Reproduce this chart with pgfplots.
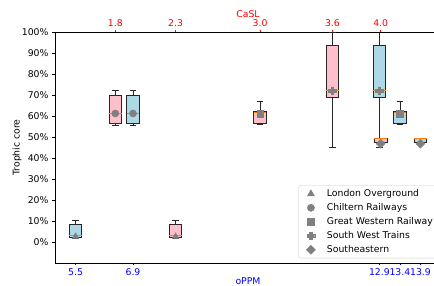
\documentclass[border=0pt]{standalone}
\usepackage{fontspec}
\setmainfont{DejaVu Sans}
\usepackage{pgfplots}
\pgfplotsset{compat=1.18}
\usepgfplotslibrary{statistics}

\definecolor{pinkbox}{HTML}{FFC0CB}
\definecolor{bluebox}{HTML}{ADD8E6}
\definecolor{medorange}{HTML}{FF7F0E}
\definecolor{mgray}{HTML}{808080}
\definecolor{legedge}{HTML}{CCCCCC}

\pgfdeclareplotmark{fatplus}{%
  \pgfpathmoveto{\pgfqpoint{-0.33\pgfplotmarksize}{\pgfplotmarksize}}%
  \pgfpathlineto{\pgfqpoint{0.33\pgfplotmarksize}{\pgfplotmarksize}}%
  \pgfpathlineto{\pgfqpoint{0.33\pgfplotmarksize}{0.33\pgfplotmarksize}}%
  \pgfpathlineto{\pgfqpoint{\pgfplotmarksize}{0.33\pgfplotmarksize}}%
  \pgfpathlineto{\pgfqpoint{\pgfplotmarksize}{-0.33\pgfplotmarksize}}%
  \pgfpathlineto{\pgfqpoint{0.33\pgfplotmarksize}{-0.33\pgfplotmarksize}}%
  \pgfpathlineto{\pgfqpoint{0.33\pgfplotmarksize}{-\pgfplotmarksize}}%
  \pgfpathlineto{\pgfqpoint{-0.33\pgfplotmarksize}{-\pgfplotmarksize}}%
  \pgfpathlineto{\pgfqpoint{-0.33\pgfplotmarksize}{-0.33\pgfplotmarksize}}%
  \pgfpathlineto{\pgfqpoint{-\pgfplotmarksize}{-0.33\pgfplotmarksize}}%
  \pgfpathlineto{\pgfqpoint{-\pgfplotmarksize}{0.33\pgfplotmarksize}}%
  \pgfpathlineto{\pgfqpoint{-0.33\pgfplotmarksize}{0.33\pgfplotmarksize}}%
  \pgfpathclose
  \pgfusepathqfillstroke
}
\pgfdeclareplotmark{mdiamond}{%
  \pgfpathmoveto{\pgfqpoint{0pt}{\pgfplotmarksize}}%
  \pgfpathlineto{\pgfqpoint{\pgfplotmarksize}{0pt}}%
  \pgfpathlineto{\pgfqpoint{0pt}{-\pgfplotmarksize}}%
  \pgfpathlineto{\pgfqpoint{-\pgfplotmarksize}{0pt}}%
  \pgfpathclose
  \pgfusepathqfillstroke
}

\pgfplotsset{
  base/.style={
    at={(55bp,23bp)}, anchor=south west, scale only axis,
    width=386bp, height=231bp, ymin=-10, ymax=100,
    tick align=outside,
    /pgf/number format/assume math mode=true,
    axis line style={line width=0.8bp},
    boxplot/every median/.style={draw=medorange, line width=0.9bp},
  },
  mybox/.style={draw=black!85, line width=0.8bp, solid, forget plot, boxplot/draw direction=y},
  mk/.style={only marks, mgray, forget plot},
  lg/.style={only marks, mgray,
    legend image code/.code={\path (0bp,0bp) (22.3bp,0bp); \draw[##1] plot coordinates {(8bp,0bp)};}},
}

\begin{document}
\begin{tikzpicture}[font=\fontsize{9.3bp}{11bp}\selectfont]
% y axis
\begin{axis}[base, xmin=0, xmax=1,
  axis x line=none, axis y line*=left,
  ytick={0,10,20,30,40,50,60,70,80,90,100},
  yticklabel={\pgfmathprintnumber{\tick}\%},
  tick style={black, line width=0.8bp}, major tick length=3bp,
  ylabel={Trophic core},
  ylabel style={at={(axis description cs:-0.098,0.5)}, anchor=center},
]
\end{axis}
% oPPM (bottom, blue)
\begin{axis}[base, xmin=5.0, xmax=14.4,
  axis x line*=bottom, axis y line=none,
  xtick={5.5,6.9,12.9,13.4,13.9},
  xticklabels={5.5,6.9,12.9,13.4,13.9},
  tick style={blue, line width=0.8bp}, major tick length=2bp,
  x tick label style={blue},
  xlabel={oPPM},
  xlabel style={blue, at={(axis description cs:0.5,-0.080)}, anchor=center},
]
\addplot[mybox, fill=bluebox, boxplot prepared={draw position=5.5, lower whisker=1.8, lower quartile=2.2, median=3.3, upper quartile=8.4, upper whisker=10.3, box extend=0.305, whisker extend=0.16}] coordinates {};
\addplot[mybox, fill=bluebox, boxplot prepared={draw position=6.9, lower whisker=55.5, lower quartile=56.7, median=61.0, upper quartile=69.7, upper whisker=72.2, box extend=0.305, whisker extend=0.16}] coordinates {};
\addplot[mybox, fill=bluebox, boxplot prepared={draw position=12.9, lower whisker=45.2, lower quartile=68.9, median=72.1, upper quartile=93.5, upper whisker=100, box extend=0.305, whisker extend=0.16}] coordinates {};
\addplot[mybox, fill=bluebox, boxplot prepared={draw position=13.4, lower whisker=55.8, lower quartile=56.7, median=61.8, upper quartile=62.1, upper whisker=67.0, box extend=0.305, whisker extend=0.16}] coordinates {};
\addplot[mybox, fill=bluebox, boxplot prepared={draw position=13.9, lower whisker=47.2, lower quartile=47.3, median=49.3, upper quartile=49.5, upper whisker=49.5, box extend=0.305, whisker extend=0.16}] coordinates {};
\addplot[mk, mark=triangle*, mark size=4bp] coordinates {(5.5,2.5)};
\addplot[mk, mark=*, mark size=3.6bp] coordinates {(6.9,61.2)};
\addplot[mk, mark=fatplus, mark size=3.8bp] coordinates {(12.9,72.1)};
\addplot[mk, mark=square*, mark size=3.3bp] coordinates {(13.4,61.2)};
\addplot[mk, mark=mdiamond, mark size=4.5bp] coordinates {(13.9,46.8)};
\end{axis}
% CaSL (top, red)
\begin{axis}[base, xmin=1.3, xmax=4.5,
  axis x line*=top, axis y line=none,
  xtick={1.8,2.3,3.0,3.6,4.0},
  xticklabels={1.8,2.3,3.0,3.6,4.0},
  tick style={red, line width=0.8bp}, major tick length=2bp,
  x tick label style={red},
  xlabel={CaSL},
  xlabel style={red, at={(axis description cs:0.5,1.078)}, anchor=center},
  legend cell align=left,
  legend style={at={(rel axis cs:1,0)}, anchor=south east, xshift=-2.5bp, yshift=4.7bp,
    draw=legedge, rounded corners=2bp, fill=white, row sep=2bp, column sep=0bp,
    inner xsep=4bp, inner ysep=2.3bp,
    nodes={inner sep=1.5bp, text height=7bp, text depth=2bp}},
]
\addlegendimage{lg, mark=triangle*, mark size=4bp}
\addlegendentry{London Overground}
\addlegendimage{lg, mark=*, mark size=3.6bp}
\addlegendentry{Chiltern Railways}
\addlegendimage{lg, mark=square*, mark size=3.3bp}
\addlegendentry{Great Western Railway}
\addlegendimage{lg, mark=fatplus, mark size=3.8bp}
\addlegendentry{South West Trains}
\addlegendimage{lg, mark=mdiamond, mark size=4.5bp}
\addlegendentry{Southeastern}
\addplot[mybox, fill=pinkbox, boxplot prepared={draw position=1.8, lower whisker=55.5, lower quartile=56.7, median=61.0, upper quartile=69.7, upper whisker=72.2, box extend=0.104, whisker extend=0.055}] coordinates {};
\addplot[mybox, fill=pinkbox, boxplot prepared={draw position=2.3, lower whisker=1.8, lower quartile=2.2, median=3.3, upper quartile=8.4, upper whisker=10.3, box extend=0.104, whisker extend=0.055}] coordinates {};
\addplot[mybox, fill=pinkbox, boxplot prepared={draw position=3.0, lower whisker=55.8, lower quartile=56.7, median=61.8, upper quartile=62.1, upper whisker=67.0, box extend=0.104, whisker extend=0.055}] coordinates {};
\addplot[mybox, fill=pinkbox, boxplot prepared={draw position=3.6, lower whisker=45.2, lower quartile=68.9, median=72.1, upper quartile=93.5, upper whisker=100, box extend=0.104, whisker extend=0.055}] coordinates {};
\addplot[mybox, fill=pinkbox, boxplot prepared={draw position=4.0, lower whisker=47.2, lower quartile=47.3, median=49.3, upper quartile=49.5, upper whisker=49.5, box extend=0.104, whisker extend=0.055}] coordinates {};
\addplot[mk, mark=*, mark size=3.6bp] coordinates {(1.8,61.2)};
\addplot[mk, mark=triangle*, mark size=4bp] coordinates {(2.3,2.5)};
\addplot[mk, mark=square*, mark size=3.3bp] coordinates {(3.0,61.2)};
\addplot[mk, mark=fatplus, mark size=3.8bp] coordinates {(3.6,72.1)};
\addplot[mk, mark=mdiamond, mark size=4.5bp] coordinates {(4.0,46.8)};
\end{axis}
\pgfresetboundingbox
\path[use as bounding box] (0,0) rectangle (434bp,286bp);
\end{tikzpicture}
\end{document}
